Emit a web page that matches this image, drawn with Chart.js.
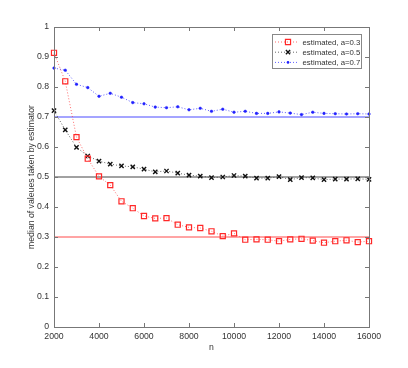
<!DOCTYPE html>
<html>
<head>
<meta charset="utf-8">
<script src="https://cdn.jsdelivr.net/npm/chart.js@4"></script>
<style>
html,body{margin:0;padding:0;background:#fff;}
#wrap{width:408px;height:368px;}
</style>
</head>
<body>
<div id="wrap"><canvas id="c" width="408" height="368"></canvas></div>
<script>
const nValues = [2000,2500,3000,3500,4000,4500,5000,5500,6000,6500,7000,7500,8000,8500,9000,9500,10000,10500,11000,11500,12000,12500,13000,13500,14000,14500,15000,15500,16000];
const est03 = [0.914,0.819,0.633,0.561,0.502,0.473,0.419,0.396,0.370,0.362,0.363,0.341,0.332,0.330,0.319,0.303,0.312,0.291,0.292,0.291,0.286,0.292,0.294,0.288,0.281,0.286,0.289,0.283,0.286];
const est05 = [0.721,0.657,0.599,0.570,0.553,0.543,0.537,0.534,0.526,0.517,0.520,0.513,0.506,0.503,0.498,0.500,0.505,0.503,0.496,0.496,0.501,0.491,0.498,0.497,0.491,0.493,0.493,0.494,0.492];
const est07 = [0.863,0.856,0.809,0.798,0.769,0.779,0.766,0.748,0.744,0.733,0.731,0.734,0.724,0.729,0.719,0.726,0.716,0.719,0.712,0.712,0.717,0.713,0.708,0.716,0.712,0.711,0.710,0.711,0.710];
const refLevels = [0.3, 0.5, 0.7];
const seriesLabels = ['estimated, a=0.3', 'estimated, a=0.5', 'estimated, a=0.7'];
const xRange = [2000, 16000];
const yRange = [0, 1];
const xLabel = 'n';
const yLabel = 'median of valeues taken by estimator';

const FONT = {family: '"Liberation Sans", Arial, Helvetica, sans-serif', size: 8.7};
const LEGEND_FONT_SIZE = 7.8;
const TXT = '#333';
const AX = '#777';

function pts(vals){ return nValues.map((n,i)=>({x:n,y:vals[i]})); }
function refLine(v){ return [{x:xRange[0],y:v},{x:xRange[1],y:v}]; }

const refColors = ['#ff4a4a','#444444','#4a4aff'];
const datasets = [
  ...refLevels.map((v,i)=>({data:refLine(v), borderColor:refColors[i], borderWidth:1, pointRadius:0, order:5, isRef:true})),
  {label:seriesLabels[0], data:pts(est03), borderColor:'rgba(255,60,60,0.75)', borderDash:[1,2], borderWidth:1,
   pointStyle:'rect', pointRadius:3.6, pointBorderColor:'#ff2828', pointBackgroundColor:'rgba(255,255,255,0)', pointBorderWidth:1.2, order:1},
  {label:seriesLabels[1], data:pts(est05), borderColor:'rgba(40,40,40,0.7)', borderDash:[1,2], borderWidth:1,
   pointStyle:'crossRot', pointRadius:3.0, pointBorderColor:'#111', pointBorderWidth:1.4, order:2},
  {label:seriesLabels[2], data:pts(est07), borderColor:'rgba(40,40,255,0.75)', borderDash:[1,2], borderWidth:1,
   pointStyle:'circle', pointRadius:1.3, pointBorderColor:'#2020ff', pointBackgroundColor:'#2020ff', pointBorderWidth:0.5, order:3}
];

const boxPlugin = {
  id:'boxTicks',
  afterDraw(chart){
    const {ctx, chartArea:a, scales:{x, y}} = chart;
    ctx.save();
    ctx.strokeStyle = AX; ctx.lineWidth = 1;
    ctx.strokeRect(Math.round(a.left)+0.5, Math.round(a.top)+0.5, Math.round(a.right-a.left), Math.round(a.bottom-a.top));
    const L = 4;
    ctx.beginPath();
    x.ticks.forEach(t=>{
      const px = Math.round(x.getPixelForValue(t.value))+0.5;
      ctx.moveTo(px,a.bottom); ctx.lineTo(px,a.bottom-L);
      ctx.moveTo(px,a.top); ctx.lineTo(px,a.top+L);
    });
    y.ticks.forEach(t=>{
      const py = Math.round(y.getPixelForValue(t.value))+0.5;
      ctx.moveTo(a.left,py); ctx.lineTo(a.left+L,py);
      ctx.moveTo(a.right,py); ctx.lineTo(a.right-L,py);
    });
    ctx.stroke();

    // legend
    const bx = 272.5, by = 34.5, bw = 89, bh = 34;
    ctx.fillStyle = '#fff'; ctx.fillRect(bx,by,bw,bh);
    ctx.strokeStyle = '#888'; ctx.strokeRect(bx,by,bw,bh);
    const series = chart.data.datasets.filter(d=>!d.isRef);
    ctx.font = LEGEND_FONT_SIZE + 'px ' + FONT.family;
    ctx.textBaseline = 'middle'; ctx.textAlign = 'left';
    series.forEach((d,i)=>{
      const ry = 42 + i*10.2;
      ctx.save();
      ctx.strokeStyle = d.borderColor; ctx.lineWidth = 1; ctx.setLineDash(d.borderDash);
      ctx.beginPath(); ctx.moveTo(275,ry); ctx.lineTo(298,ry); ctx.stroke();
      ctx.restore();
      const mx = 288, r = d.pointRadius;
      ctx.save();
      ctx.strokeStyle = d.pointBorderColor; ctx.lineWidth = d.pointBorderWidth;
      ctx.beginPath();
      if (d.pointStyle==='rect'){ const s=r*Math.SQRT1_2; ctx.rect(mx-s,ry-s,2*s,2*s); ctx.stroke(); }
      else if (d.pointStyle==='crossRot'){ const s=r*Math.SQRT1_2; ctx.moveTo(mx-s,ry-s);ctx.lineTo(mx+s,ry+s);ctx.moveTo(mx-s,ry+s);ctx.lineTo(mx+s,ry-s); ctx.stroke(); }
      else { ctx.fillStyle=d.pointBackgroundColor; ctx.arc(mx,ry,r,0,Math.PI*2); ctx.fill(); }
      ctx.restore();
      ctx.fillStyle = TXT;
      ctx.fillText(d.label, 302.5, ry+0.5);
    });
    ctx.restore();
  }
};

new Chart(document.getElementById('c'), {
  type:'line',
  data:{datasets},
  plugins:[boxPlugin],
  options:{
    responsive:false, animation:false, clip:false,
    layout:{padding:{left:0, right:39, top:27, bottom:0}},
    plugins:{legend:{display:false}, tooltip:{enabled:false}},
    elements:{line:{tension:0}},
    scales:{
      x:{type:'linear', min:xRange[0], max:xRange[1],
         grid:{display:false, drawTicks:false}, border:{display:false},
         ticks:{stepSize:2000, padding:4, color:TXT, font:FONT, maxRotation:0, autoSkip:false, callback:v=>String(v)},
         title:{display:true, text:xLabel, color:TXT, font:FONT, padding:{top:0,bottom:15}},
         afterFit(s){ s.height = 41; }},
      y:{type:'linear', min:yRange[0], max:yRange[1],
         grid:{display:false, drawTicks:false}, border:{display:false},
         ticks:{stepSize:0.1, padding:5, color:TXT, font:FONT, callback:v=>String(Math.round(v*10)/10)},
         title:{display:true, text:yLabel, color:TXT, font:FONT, padding:{top:26,bottom:0}},
         afterFit(s){ s.width = 54; }}
    }
  }
});
</script>
</body>
</html>
